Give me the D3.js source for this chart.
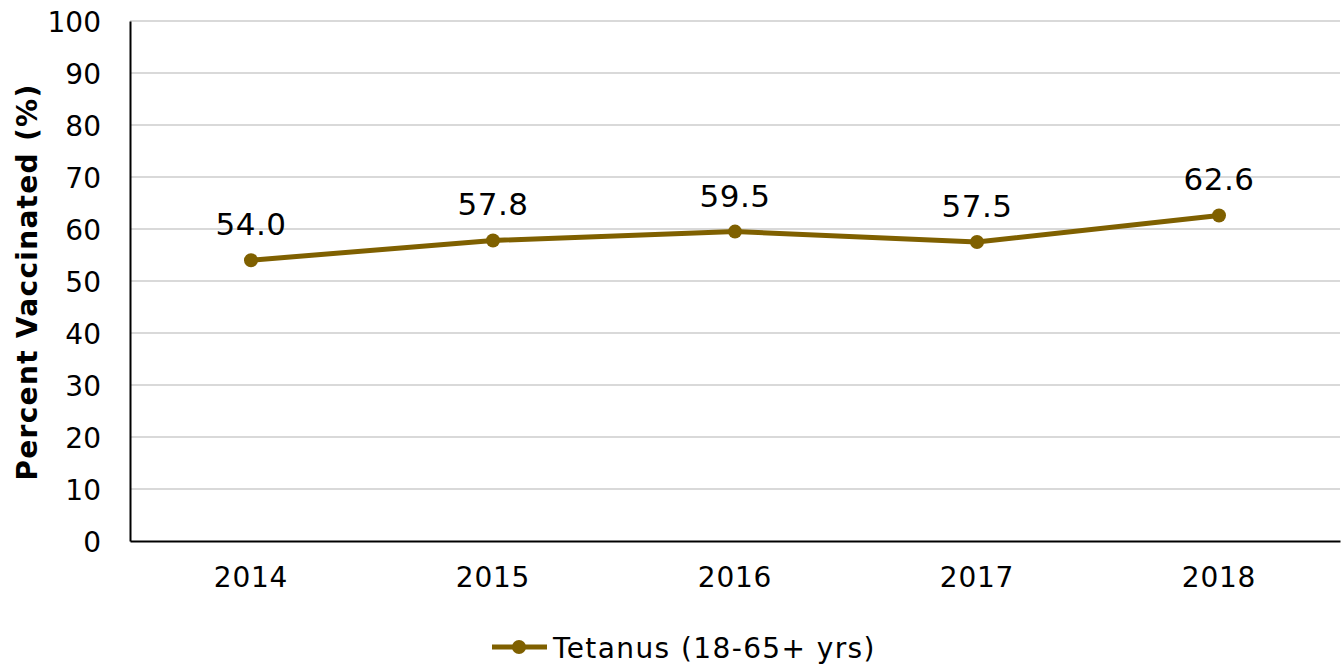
<!DOCTYPE html>
<html>
<head>
<meta charset="utf-8">
<script src="https://cdn.jsdelivr.net/npm/d3@7"></script>
<style>
  body { margin: 0; background: #fff; }
  svg text { font-family: "DejaVu Sans", Verdana, sans-serif; fill: #000; }
</style>
</head>
<body>
<div id="chart"></div>
<script>
const years = ["2014", "2015", "2016", "2017", "2018"];
const tetanus = [54.0, 57.8, 59.5, 57.5, 62.6];
const yTicks = [0, 10, 20, 30, 40, 50, 60, 70, 80, 90, 100];
const seriesName = "Tetanus (18-65+ yrs)";
const yTitle = "Percent Vaccinated (%)";

const W = 1343, H = 666;
const margin = {left: 130, right: 3, top: 21, bottom: 125};
const lineColor = "#7f6000";

const svg = d3.select("#chart").append("svg")
    .attr("width", W)
    .attr("height", H);

const x = d3.scaleBand()
    .domain(years)
    .range([margin.left, W - margin.right]);

const y = d3.scaleLinear()
    .domain([0, 100])
    .range([H - margin.bottom, margin.top]);

// gridlines
svg.append("g")
    .selectAll("line")
    .data(yTicks.filter(d => d > 0))
    .enter()
    .append("line")
    .attr("x1", margin.left)
    .attr("x2", W - margin.right)
    .attr("y1", d => y(d))
    .attr("y2", d => y(d))
    .attr("stroke", "#d9d9d9")
    .attr("stroke-width", 2);

// y axis
const yAxis = svg.append("g")
    .attr("transform", `translate(${margin.left},0)`)
    .call(d3.axisLeft(y).tickValues(yTicks).tickSize(0).tickPadding(29));
yAxis.select(".domain").attr("stroke", "#000").attr("stroke-width", 2);
yAxis.selectAll("text").attr("font-size", 28).attr("dy", "0.36em");

// x axis
const xAxis = svg.append("g")
    .attr("transform", `translate(0,${y(0)})`)
    .call(d3.axisBottom(x).tickSize(0).tickPadding(26));
xAxis.select(".domain").attr("stroke", "#000").attr("stroke-width", 2);
xAxis.selectAll("text").attr("font-size", 28).attr("letter-spacing", 0.8);

// y title
svg.append("text")
    .attr("transform", `translate(37,282) rotate(-90)`)
    .attr("text-anchor", "middle")
    .attr("font-size", 28)
    .attr("font-weight", "bold")
    .attr("letter-spacing", 1.3)
    .text(yTitle);

const cx = (d, i) => x(years[i]) + x.bandwidth() / 2;

const line = d3.line()
    .x((d, i) => cx(d, i))
    .y(d => y(d));

svg.append("path")
    .datum(tetanus)
    .attr("d", line)
    .attr("fill", "none")
    .attr("stroke", lineColor)
    .attr("stroke-width", 5)
    .attr("stroke-linejoin", "round");

svg.append("g")
    .selectAll("circle")
    .data(tetanus)
    .enter()
    .append("circle")
    .attr("cx", cx)
    .attr("cy", d => y(d))
    .attr("r", 7)
    .attr("fill", lineColor);

svg.append("g")
    .selectAll("text")
    .data(tetanus)
    .enter()
    .append("text")
    .attr("x", cx)
    .attr("y", d => y(d) - 25)
    .attr("text-anchor", "middle")
    .attr("font-size", 31)
    .attr("letter-spacing", 0.5)
    .text(d => d.toFixed(1));

// legend
const leg = svg.append("g").attr("transform", "translate(492,647)");
leg.append("line")
    .attr("x1", 0).attr("x2", 55)
    .attr("stroke", lineColor)
    .attr("stroke-width", 5);
leg.append("circle")
    .attr("cx", 27).attr("r", 7)
    .attr("fill", lineColor);
leg.append("text")
    .attr("x", 61)
    .attr("y", 11)
    .attr("font-size", 28)
    .attr("letter-spacing", 1.4)
    .text(seriesName);
</script>
</body>
</html>
